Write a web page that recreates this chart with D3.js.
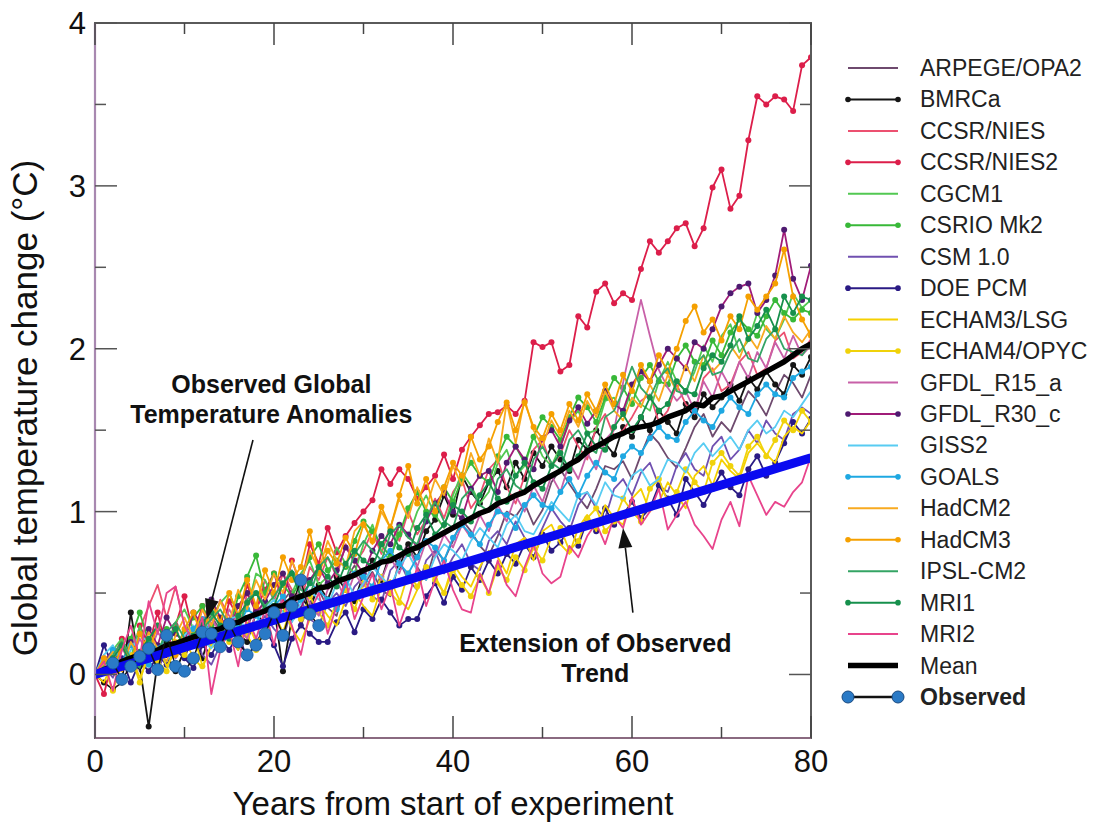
<!DOCTYPE html>
<html>
<head>
<meta charset="utf-8">
<script src="https://cdn.jsdelivr.net/npm/d3@7"></script>
<style>
  body { margin: 0; background: #fff; }
  svg text { font-family: "Liberation Sans", Arial, sans-serif; }
</style>
</head>
<body>
<div id="chart"></div>
<script>
// years 0..80 of each model run
var years = d3.range(0, 81);

var arpege = [0.00,0.10,0.04,0.15,0.22,0.02,0.18,0.30,0.21,0.16,
  0.10,0.24,0.31,0.36,0.27,0.22,0.15,0.29,0.42,0.38,
  0.33,0.45,0.52,0.30,0.44,0.52,0.41,0.36,0.58,0.67,
  0.55,0.63,0.52,0.48,0.70,0.81,0.66,0.58,0.77,0.70,
  0.82,0.95,0.88,0.79,0.73,0.85,1.00,0.97,1.05,0.92,
  1.01,1.18,1.26,1.17,1.09,1.02,1.14,1.28,1.26,1.31,
  1.20,1.35,1.48,1.42,1.33,1.27,1.39,1.52,1.60,1.46,
  1.55,1.49,1.62,1.74,1.68,1.59,1.73,1.84,1.79,1.70,1.84];
var bmrca = [0.00,-0.05,-0.09,-0.05,0.38,0.05,-0.32,0.08,0.12,0.02,
  0.15,0.22,0.10,0.28,0.18,0.33,0.25,0.20,0.38,0.30,
  0.42,0.02,0.35,0.48,0.40,0.55,0.46,0.60,0.52,0.45,
  0.62,0.70,0.58,0.75,0.66,0.80,0.72,0.88,0.95,1.10,
  0.98,1.22,1.12,1.05,1.18,1.25,1.15,1.30,1.20,1.36,
  1.28,1.40,1.32,1.25,1.44,1.38,1.50,1.42,1.35,1.52,
  1.46,1.58,1.50,1.62,1.55,1.48,1.66,1.58,1.72,1.64,
  1.70,1.78,1.68,1.82,1.75,1.86,1.78,1.72,1.90,1.84,1.95];
var ccsr = [0.00,0.12,0.05,0.20,0.10,0.28,0.42,0.55,0.35,0.54,
  0.30,0.22,0.40,0.28,0.46,0.36,0.25,0.50,0.40,0.58,
  0.45,0.62,0.52,0.44,0.66,0.58,0.72,0.60,0.80,0.68,
  0.76,0.88,0.74,0.92,0.82,1.00,0.86,0.95,1.08,0.96,
  1.12,1.20,1.02,1.10,1.26,1.32,1.15,1.05,1.22,1.38,
  1.44,1.28,1.35,1.50,1.40,1.32,1.52,1.60,1.46,1.50,
  1.58,1.68,1.72,1.55,1.62,1.78,1.66,1.60,1.82,1.88,
  1.74,1.78,1.92,1.98,1.84,1.88,2.05,2.10,1.94,1.98,2.06];
var ccsr2 = [0.00,-0.12,0.10,0.22,0.05,0.30,0.18,0.38,0.15,0.30,
  0.48,0.25,0.42,0.30,0.22,0.45,0.35,0.55,0.40,0.52,
  0.62,0.45,0.70,0.55,0.80,0.68,0.90,0.75,0.85,0.93,
  1.00,1.07,1.26,1.17,1.26,1.20,1.08,1.15,1.22,1.35,
  1.20,1.38,1.46,1.53,1.60,1.61,1.65,1.60,1.68,2.04,
  2.01,2.04,1.86,1.90,2.20,2.13,2.35,2.40,2.28,2.34,
  2.30,2.49,2.66,2.59,2.66,2.74,2.77,2.63,2.74,2.99,
  3.10,2.86,2.94,3.28,3.55,3.50,3.55,3.53,3.46,3.74,3.79];
var cgcm1 = [0.00,0.06,0.15,0.22,0.10,0.30,0.12,0.05,0.18,0.32,
  0.40,0.28,0.20,0.35,0.44,0.50,0.36,0.40,0.62,0.58,
  0.46,0.38,0.50,0.62,0.70,0.55,0.60,0.78,0.68,0.62,
  0.80,0.92,0.76,0.70,0.92,0.84,1.00,1.10,0.98,0.90,
  1.10,1.24,1.16,1.05,1.12,1.30,1.38,1.22,1.28,1.46,
  1.34,1.28,1.40,1.55,1.62,1.48,1.50,1.68,1.70,1.60,
  1.75,1.66,1.62,1.80,1.92,1.80,1.74,1.86,2.02,1.92,
  2.08,2.15,1.98,2.05,2.22,2.12,2.06,2.18,2.34,2.25,2.30];
var csrio = [0.00,0.08,0.15,0.05,0.22,0.38,0.20,0.12,0.28,0.18,
  0.26,0.35,0.42,0.30,0.22,0.28,0.48,0.60,0.73,0.50,
  0.62,0.55,0.48,0.58,0.72,0.80,0.64,0.70,0.66,0.82,
  0.94,0.88,0.80,0.72,0.86,1.02,1.12,1.00,0.98,1.15,
  1.06,1.20,1.30,1.22,1.18,1.34,1.46,1.40,1.30,1.46,
  1.58,1.52,1.44,1.58,1.70,1.64,1.55,1.70,1.82,1.76,
  1.66,1.82,1.90,1.80,1.78,1.94,2.02,1.92,1.90,2.05,
  1.96,2.10,2.18,2.12,2.08,2.20,2.30,2.22,2.18,2.24,2.22];
var csm = [0.00,0.05,-0.02,0.10,0.04,0.14,0.08,0.02,0.16,0.10,
  0.20,0.26,0.12,0.06,0.18,0.28,0.34,0.24,0.30,0.36,
  0.28,0.22,0.40,0.46,0.34,0.30,0.44,0.50,0.42,0.54,
  0.60,0.48,0.44,0.64,0.70,0.58,0.52,0.70,0.76,0.62,
  0.72,0.80,0.68,0.64,0.82,0.88,0.80,0.94,0.84,0.78,
  0.90,1.02,0.94,0.88,1.04,1.12,1.02,0.96,1.14,1.20,
  1.10,1.24,1.30,1.16,1.12,1.28,1.36,1.26,1.22,1.40,
  1.46,1.32,1.38,1.50,1.42,1.56,1.48,1.44,1.60,1.64,1.60];
var doepcm = [0.00,0.18,0.05,0.10,-0.05,0.08,0.02,0.12,0.06,0.15,
  0.10,0.04,0.18,0.12,0.22,0.15,0.25,0.10,0.20,0.28,
  0.18,0.05,0.22,0.30,0.25,0.20,0.20,0.32,0.38,0.26,
  0.40,0.34,0.46,0.38,0.30,0.34,0.34,0.48,0.56,0.44,
  0.60,0.52,0.66,0.58,0.70,0.62,0.74,0.68,0.80,0.72,
  0.86,0.76,0.81,0.90,0.79,0.95,0.88,1.02,0.92,0.98,
  1.06,0.96,1.02,1.16,1.08,0.98,1.20,1.12,1.04,1.14,
  1.24,1.15,1.10,1.26,1.34,1.22,1.30,1.42,1.55,1.48,1.57];
var echam3 = [0.00,-0.05,0.08,0.02,0.12,-0.02,0.10,0.18,0.05,0.14,
  0.22,0.10,0.04,0.18,0.28,0.24,0.15,0.32,0.20,0.25,
  0.36,0.42,0.28,0.20,0.34,0.44,0.36,0.30,0.46,0.50,
  0.42,0.36,0.54,0.58,0.46,0.40,0.52,0.64,0.60,0.50,
  0.68,0.60,0.54,0.66,0.76,0.72,0.62,0.80,0.84,0.70,
  0.88,0.92,0.80,0.74,0.90,0.98,0.88,1.04,0.96,0.92,
  1.08,1.14,1.00,1.06,1.18,1.10,1.02,1.22,1.28,1.16,
  1.32,1.25,1.20,1.36,1.42,1.35,1.30,1.46,1.52,1.48,1.56];
var echam4 = [0.00,0.04,-0.10,0.06,0.12,-0.05,0.15,0.08,0.02,0.20,
  0.12,0.25,0.05,0.18,0.28,0.20,0.32,0.24,0.15,0.30,
  0.38,0.26,0.42,0.34,0.48,0.38,0.30,0.45,0.52,0.40,
  0.56,0.46,0.60,0.50,0.44,0.62,0.54,0.66,0.58,0.50,
  0.64,0.55,0.48,0.60,0.50,0.66,0.58,0.72,0.64,0.78,
  0.70,0.84,0.90,0.76,0.82,0.96,1.02,0.88,0.94,1.08,
  1.00,0.94,1.14,1.20,1.06,1.12,1.26,1.18,1.12,1.30,
  1.36,1.28,1.22,1.40,1.46,1.34,1.44,1.56,1.50,1.62,1.55];
var gfdl15 = [0.00,0.10,0.02,0.16,0.08,0.22,0.12,0.26,0.18,0.10,
  0.24,0.30,0.20,0.34,0.26,0.40,0.30,0.22,0.38,0.44,
  0.34,0.48,0.40,0.54,0.44,0.36,0.52,0.58,0.46,0.62,
  0.54,0.68,0.58,0.72,0.62,0.78,0.66,0.82,0.72,0.86,
  0.78,0.92,0.84,0.98,0.88,1.04,0.94,1.10,1.00,1.16,
  1.06,1.22,1.12,1.30,1.20,1.36,1.26,1.44,1.50,1.79,
  2.05,2.30,2.08,1.87,1.76,1.68,1.74,1.62,1.80,1.70,
  1.86,1.76,1.92,1.82,1.98,1.88,2.04,1.94,2.08,1.96,2.02];
var gfdl30 = [0.00,0.08,0.15,0.04,0.20,0.12,0.28,0.18,0.35,0.25,
  0.20,0.38,0.30,0.46,0.35,0.28,0.42,0.50,0.38,0.45,
  0.55,0.62,0.48,0.40,0.58,0.66,0.56,0.64,0.78,0.70,
  0.62,0.76,0.85,0.80,0.92,0.86,0.78,0.94,1.05,1.12,
  1.00,0.96,1.14,1.22,1.25,1.12,1.30,1.40,1.32,1.26,
  1.45,1.50,1.40,1.56,1.64,1.54,1.62,1.74,1.66,1.62,
  1.78,1.86,1.80,1.90,2.00,1.94,1.88,2.04,2.00,2.12,
  2.26,2.34,2.38,2.40,2.22,2.30,2.45,2.73,2.43,2.30,2.51];
var giss2 = [0.00,0.12,0.18,0.06,0.15,0.24,0.20,0.14,0.08,0.18,
  0.24,0.30,0.22,0.16,0.26,0.34,0.36,0.26,0.32,0.40,
  0.46,0.38,0.32,0.44,0.52,0.46,0.42,0.56,0.60,0.48,
  0.56,0.66,0.60,0.54,0.66,0.74,0.64,0.58,0.72,0.80,
  0.76,0.70,0.82,0.90,0.84,0.78,0.92,0.98,0.88,0.86,
  0.96,1.06,1.00,0.94,1.10,1.12,1.04,1.18,1.10,1.08,
  1.22,1.26,1.16,1.20,1.32,1.30,1.24,1.36,1.42,1.34,
  1.40,1.46,1.38,1.50,1.56,1.48,1.52,1.62,1.58,1.66,1.74];
var goals = [0.00,0.05,0.15,0.08,0.18,0.12,0.06,0.16,0.22,0.14,
  0.20,0.28,0.34,0.25,0.18,0.24,0.30,0.40,0.36,0.30,
  0.42,0.48,0.38,0.46,0.56,0.52,0.46,0.40,0.55,0.62,
  0.60,0.54,0.70,0.76,0.68,0.62,0.72,0.82,0.78,0.70,
  0.84,0.92,0.86,0.80,0.92,1.00,0.98,0.90,1.04,1.10,
  1.04,1.02,1.12,1.20,1.10,1.22,1.30,1.24,1.20,1.34,
  1.40,1.36,1.45,1.52,1.46,1.44,1.55,1.62,1.56,1.52,
  1.62,1.70,1.64,1.60,1.72,1.78,1.72,1.70,1.82,1.86,1.89];
var hadcm2 = [0.00,0.06,0.14,0.02,0.20,0.10,0.26,0.16,0.08,0.24,
  0.35,0.22,0.40,0.30,0.45,0.32,0.52,0.40,0.58,0.46,
  0.62,0.50,0.70,0.56,0.76,0.64,0.82,0.70,0.66,0.88,
  0.94,0.80,1.00,0.90,1.08,0.96,1.15,1.02,1.20,1.10,
  1.28,1.16,1.36,1.22,1.45,1.30,1.67,1.42,1.69,1.50,
  1.40,1.56,1.46,1.62,1.52,1.68,1.58,1.74,1.62,1.56,
  1.70,1.64,1.78,1.68,1.84,1.74,1.90,1.80,1.96,1.86,
  1.92,2.02,1.94,2.08,2.00,2.14,2.06,2.20,2.10,2.04,2.12];
var hadcm3 = [0.00,0.10,0.02,0.18,0.08,0.25,0.14,0.30,0.20,0.12,
  0.28,0.38,0.22,0.44,0.32,0.50,0.36,0.58,0.42,0.64,
  0.50,0.72,0.58,0.66,0.88,0.62,0.76,0.68,0.84,0.74,
  0.92,0.82,1.03,0.90,1.10,1.28,1.05,1.20,1.00,1.15,
  1.30,1.22,1.46,1.32,1.40,1.55,1.67,1.50,1.67,1.52,
  1.45,1.60,1.50,1.66,1.56,1.72,1.62,1.78,1.66,1.84,
  1.74,1.90,1.80,1.96,1.86,2.00,2.17,2.26,2.10,2.18,
  2.05,2.20,2.12,2.32,2.24,2.32,2.40,2.61,2.32,2.18,2.08];
var ipsl = [0.00,0.05,0.12,0.20,0.10,0.04,0.22,0.14,0.26,0.32,
  0.22,0.18,0.28,0.34,0.40,0.30,0.26,0.46,0.50,0.42,
  0.48,0.56,0.64,0.52,0.48,0.66,0.72,0.62,0.58,0.74,
  0.82,0.76,0.70,0.86,0.92,0.84,0.80,0.96,1.06,0.94,
  0.90,1.08,1.14,1.04,1.00,1.20,1.26,1.16,1.12,1.32,
  1.40,1.30,1.26,1.44,1.50,1.40,1.36,1.58,1.62,1.74,
  1.89,1.76,1.70,1.82,1.88,1.74,1.72,1.90,1.96,1.84,
  1.86,1.98,2.06,1.94,1.92,2.06,2.12,2.00,1.98,1.96,2.04];
var mri1 = [0.00,0.02,0.10,0.18,0.06,0.14,0.22,0.30,0.20,0.28,
  0.16,0.24,0.32,0.38,0.30,0.22,0.36,0.44,0.50,0.40,
  0.42,0.56,0.62,0.48,0.56,0.66,0.60,0.54,0.68,0.76,
  0.70,0.66,0.80,0.88,0.78,0.74,0.90,0.98,0.86,0.92,
  1.04,1.00,0.94,1.10,1.18,1.08,1.06,1.22,1.30,1.18,
  1.14,1.28,1.36,1.26,1.34,1.48,1.40,1.38,1.52,1.60,
  1.50,1.58,1.70,1.62,1.66,1.80,1.74,1.72,1.88,1.96,
  1.92,2.02,2.20,2.06,2.14,2.24,2.12,2.32,2.22,2.32,2.30];
var mri2 = [0.00,0.08,-0.10,0.15,0.30,0.10,0.45,0.25,0.50,0.54,
  0.30,0.20,0.35,-0.12,0.15,0.28,0.05,0.36,0.22,0.40,
  0.18,0.45,0.30,0.12,0.38,0.50,0.25,0.42,0.58,0.34,
  0.48,0.62,0.40,0.55,0.30,0.46,0.66,0.42,0.58,0.70,
  0.52,0.40,0.38,0.62,0.50,0.70,0.55,0.48,0.66,0.80,
  0.62,0.56,0.60,0.79,0.72,0.85,0.93,0.80,0.97,0.90,
  1.09,0.92,1.00,1.14,0.89,0.98,1.06,0.92,0.85,0.77,
  0.95,1.06,0.91,1.22,1.10,0.98,1.06,1.03,1.12,1.18,1.34];

// ensemble mean (thick black)
var meanVals = [0.00,0.03,0.05,0.08,0.10,0.12,0.13,0.15,0.18,0.19,
  0.21,0.23,0.24,0.27,0.28,0.31,0.32,0.35,0.37,0.39,
  0.42,0.42,0.46,0.48,0.50,0.53,0.54,0.57,0.59,0.61,
  0.64,0.66,0.69,0.70,0.73,0.76,0.78,0.81,0.84,0.87,
  0.90,0.93,0.96,0.99,1.01,1.05,1.07,1.10,1.12,1.16,
  1.19,1.22,1.25,1.29,1.32,1.37,1.40,1.43,1.46,1.48,
  1.51,1.52,1.53,1.55,1.58,1.60,1.62,1.66,1.65,1.70,
  1.71,1.74,1.77,1.80,1.83,1.86,1.89,1.92,1.96,2.00,2.03];

// observed anomalies
var obsYears = [2,3,4,5,6,7,8,9,10,11,12,13,14,15,16,17,18,19,20,21,22,23,24,25];
var obsVals = [0.07,-0.03,0.05,0.11,0.16,0.03,0.24,0.05,0.02,0.10,0.26,0.25,
  0.17,0.31,0.20,0.12,0.18,0.25,0.38,0.24,0.42,0.58,0.37,0.30];

// extension of observed trend
var trendYears = [0, 80];
var trendVals = [0, 1.33];

var models = [
  { name: "ARPEGE/OPA2", values: arpege, color: "#6e4a6e", dots: false },
  { name: "BMRCa", values: bmrca, color: "#151515", dots: true },
  { name: "CCSR/NIES", values: ccsr, color: "#ec5070", dots: false },
  { name: "CCSR/NIES2", values: ccsr2, color: "#dc1e4a", dots: true },
  { name: "CGCM1", values: cgcm1, color: "#52c852", dots: false },
  { name: "CSRIO Mk2", values: csrio, color: "#38b838", dots: true },
  { name: "CSM 1.0", values: csm, color: "#7050b0", dots: false },
  { name: "DOE PCM", values: doepcm, color: "#2a1a84", dots: true },
  { name: "ECHAM3/LSG", values: echam3, color: "#f5d000", dots: false },
  { name: "ECHAM4/OPYC", values: echam4, color: "#f0d20a", dots: true },
  { name: "GFDL_R15_a", values: gfdl15, color: "#c860a8", dots: false },
  { name: "GFDL_R30_c", values: gfdl30, color: "#a01c78", dots: true, dotColor: "#4e1a70" },
  { name: "GISS2", values: giss2, color: "#58ccf2", dots: false },
  { name: "GOALS", values: goals, color: "#1ea8e2", dots: true },
  { name: "HadCM2", values: hadcm2, color: "#f8aa20", dots: false },
  { name: "HadCM3", values: hadcm3, color: "#f5a000", dots: true },
  { name: "IPSL-CM2", values: ipsl, color: "#34a464", dots: false },
  { name: "MRI1", values: mri1, color: "#16904c", dots: true },
  { name: "MRI2", values: mri2, color: "#e8448c", dots: false }
];

var W = 1111, H = 825;
var plot = { left: 95, right: 811, top: 23, bottom: 738 };

var svg = d3.select("#chart").append("svg")
    .attr("width", W)
    .attr("height", H);

var x = d3.scaleLinear().domain([0, 80]).range([plot.left, plot.right]);
var y = d3.scaleLinear().domain([-0.39, 4]).range([plot.bottom, plot.top]);

var line = d3.line()
    .x(function(d){ return x(d[0]); })
    .y(function(d){ return y(d[1]); });

function pairs(xs, vs){
    return vs.map(function(v, i){ return [xs[i], v]; });
}

svg.append("defs").append("clipPath").attr("id", "clip")
    .append("rect")
    .attr("x", plot.left).attr("y", plot.top)
    .attr("width", plot.right - plot.left)
    .attr("height", plot.bottom - plot.top);

var marks = svg.append("g").attr("clip-path", "url(#clip)");

// model runs
models.forEach(function(m){
    var pts = pairs(years, m.values);
    var g = marks.append("g");
    g.append("path")
        .datum(pts)
        .attr("d", line)
        .attr("fill", "none")
        .attr("stroke", m.color)
        .attr("stroke-width", 1.8)
        .attr("stroke-linejoin", "round");
    if (m.dots){
        g.selectAll("circle")
            .data(pts)
            .enter().append("circle")
            .attr("cx", function(d){ return x(d[0]); })
            .attr("cy", function(d){ return y(d[1]); })
            .attr("r", 3)
            .attr("fill", m.dotColor || m.color);
    }
});

// mean
marks.append("path")
    .datum(pairs(years, meanVals))
    .attr("d", line)
    .attr("fill", "none")
    .attr("stroke", "#000")
    .attr("stroke-width", 5.5)
    .attr("stroke-linejoin", "round");

// trend extension
marks.append("path")
    .datum(pairs(trendYears, trendVals))
    .attr("d", line)
    .attr("fill", "none")
    .attr("stroke", "#0a0af0")
    .attr("stroke-width", 9);

// observed
var obs = pairs(obsYears, obsVals);
marks.append("path")
    .datum(obs)
    .attr("d", line)
    .attr("fill", "none")
    .attr("stroke", "#111")
    .attr("stroke-width", 1.5);
marks.selectAll(".obs")
    .data(obs)
    .enter().append("circle")
    .attr("class", "obs")
    .attr("cx", function(d){ return x(d[0]); })
    .attr("cy", function(d){ return y(d[1]); })
    .attr("r", 6)
    .attr("fill", "#2a7ac6")
    .attr("stroke", "#1a5a9a")
    .attr("stroke-width", 0.8);

// frame with inward ticks on all four sides
var frame = svg.append("g");
frame.append("rect")
    .attr("x", plot.left).attr("y", plot.top)
    .attr("width", plot.right - plot.left)
    .attr("height", plot.bottom - plot.top)
    .attr("fill", "none")
    .attr("stroke", "#5a5a5a")
    .attr("stroke-width", 2);
frame.append("line")
    .attr("x1", plot.left).attr("x2", plot.left)
    .attr("y1", plot.top).attr("y2", plot.bottom)
    .attr("stroke", "#a888b0").attr("stroke-width", 2.2);
frame.append("line")
    .attr("x1", plot.left).attr("x2", plot.right)
    .attr("y1", plot.bottom).attr("y2", plot.bottom)
    .attr("stroke", "#8a6a80").attr("stroke-width", 2);

var xTicks = d3.range(0, 81, 10);
var yTicks = d3.range(0, 4.01, 0.5);

xTicks.forEach(function(t){
    var len = (t % 20 === 0) ? 22 : 11;
    frame.append("line")
        .attr("x1", x(t)).attr("x2", x(t))
        .attr("y1", plot.bottom).attr("y2", plot.bottom - len)
        .attr("stroke", "#444").attr("stroke-width", 1.5);
    frame.append("line")
        .attr("x1", x(t)).attr("x2", x(t))
        .attr("y1", plot.top).attr("y2", plot.top + len)
        .attr("stroke", "#444").attr("stroke-width", 1.5);
});
yTicks.forEach(function(t){
    var len = (t % 1 === 0) ? 22 : 11;
    frame.append("line")
        .attr("x1", plot.left).attr("x2", plot.left + len)
        .attr("y1", y(t)).attr("y2", y(t))
        .attr("stroke", "#555").attr("stroke-width", 1.5);
    frame.append("line")
        .attr("x1", plot.right).attr("x2", plot.right - len)
        .attr("y1", y(t)).attr("y2", y(t))
        .attr("stroke", "#555").attr("stroke-width", 1.5);
});

var xLabels = [0, 20, 40, 60, 80];
var yLabels = [0, 1, 2, 3, 4];

svg.selectAll(".xl")
    .data(xLabels)
    .enter().append("text")
    .attr("x", function(d){ return x(d); })
    .attr("y", 772)
    .attr("text-anchor", "middle")
    .attr("font-size", 31)
    .attr("fill", "#111")
    .text(function(d){ return d; });

svg.selectAll(".yl")
    .data(yLabels)
    .enter().append("text")
    .attr("x", 86)
    .attr("y", function(d){ return y(d) + 11; })
    .attr("text-anchor", "end")
    .attr("font-size", 31)
    .attr("fill", "#111")
    .text(function(d){ return d; });

svg.append("text")
    .attr("x", 453).attr("y", 815)
    .attr("text-anchor", "middle")
    .attr("font-size", 33)
    .attr("fill", "#111")
    .text("Years from start of experiment");

svg.append("text")
    .attr("transform", "translate(37,408) rotate(-90)")
    .attr("text-anchor", "middle")
    .attr("font-size", 35)
    .attr("fill", "#111")
    .text("Global temperature change (\u00B0C)");

// annotations
function note(lines, cx, cy){
    lines.forEach(function(s, i){
        svg.append("text")
            .attr("x", x(cx)).attr("y", y(cy) + i * 30)
            .attr("text-anchor", "middle")
            .attr("font-size", 25)
            .attr("font-weight", "bold")
            .attr("fill", "#111")
            .text(s);
    });
}
note(["Observed Global", "Temperature Anomalies"], 19.7, 1.73);
note(["Extension of Observed", "Trend"], 55.9, 0.14);

function arrow(x0, y0, x1, y1){
    var ax = x(x0), ay = y(y0), bx = x(x1), by = y(y1);
    var ang = Math.atan2(by - ay, bx - ax);
    var hl = 20, hw = 7;
    var ex = bx - hl * Math.cos(ang), ey = by - hl * Math.sin(ang);
    svg.append("line")
        .attr("x1", ax).attr("y1", ay).attr("x2", ex).attr("y2", ey)
        .attr("stroke", "#111").attr("stroke-width", 1.6);
    var p1 = [ex + hw * Math.sin(ang), ey - hw * Math.cos(ang)];
    var p2 = [ex - hw * Math.sin(ang), ey + hw * Math.cos(ang)];
    svg.append("path")
        .attr("d", "M" + bx + "," + by + "L" + p1 + "L" + p2 + "Z")
        .attr("fill", "#111");
}
arrow(17.65, 1.44, 12.5, 0.34);
arrow(60.1, 0.38, 59.0, 0.90);

// legend
var legendItems = models.map(function(m){
    return { name: m.name, color: m.color, dots: m.dots, dotColor: m.dotColor, kind: "model" };
});
legendItems.push({ name: "Mean", color: "#000", dots: false, kind: "mean" });
legendItems.push({ name: "Observed", color: "#111", dots: true, kind: "obs" });

var legend = svg.append("g");
legendItems.forEach(function(d, i){
    var ly = 68 + i * 31.45;
    var g = legend.append("g");
    g.append("line")
        .attr("x1", 848).attr("x2", 898)
        .attr("y1", ly).attr("y2", ly)
        .attr("stroke", d.color)
        .attr("stroke-width", d.kind === "mean" ? 5.5 : (d.kind === "obs" ? 2.5 : 2));
    if (d.dots){
        [848, 898].forEach(function(cx){
            g.append("circle")
                .attr("cx", cx).attr("cy", ly)
                .attr("r", d.kind === "obs" ? 6 : 2.8)
                .attr("fill", d.kind === "obs" ? "#2a7ac6" : (d.dotColor || d.color))
                .attr("stroke", d.kind === "obs" ? "#1a4a80" : "none");
        });
    }
    g.append("text")
        .attr("x", 920).attr("y", ly + 8)
        .attr("font-size", 23)
        .attr("font-weight", d.kind === "obs" ? "bold" : "normal")
        .attr("fill", "#222")
        .text(d.name);
});
</script>
</body>
</html>
